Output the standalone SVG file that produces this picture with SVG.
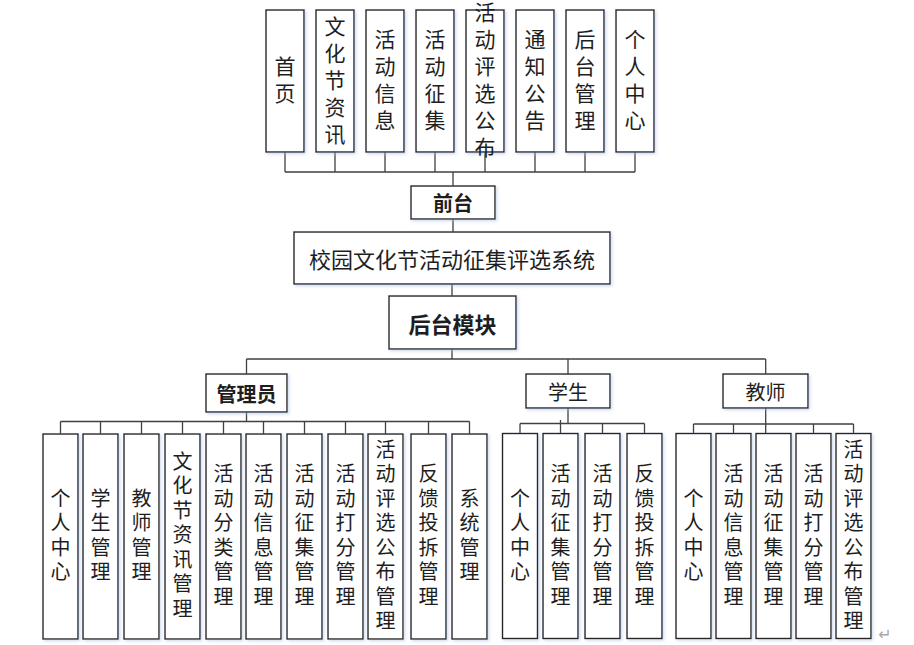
<svg xmlns="http://www.w3.org/2000/svg" width="914" height="645" viewBox="0 0 914 645">
<defs>
<filter id="sh" x="-20%" y="-20%" width="140%" height="140%">
<feDropShadow dx="1.5" dy="1.5" stdDeviation="1.5" flood-color="#a9bde3" flood-opacity="0.55"/>
</filter>
</defs>
<style>
.b{fill:#fff;stroke:#262626;stroke-width:1.4;filter:url(#sh)}
.c{fill:none;stroke:#404040;stroke-width:1.3}
text{font-family:"Noto Sans CJK SC","Noto Sans",sans-serif;fill:#1e1e1e;text-anchor:middle;dominant-baseline:central}
.t{font-size:21px;writing-mode:vertical-rl;letter-spacing:6px}
.v{font-size:20px;writing-mode:vertical-rl;letter-spacing:4.5px}
.h{font-size:20px}
.m{font-size:22px}
.bd{font-weight:bold}
</style>
<rect width="914" height="645" fill="#fff"/>
<g id="connectors">
<path class="c" d="M285,152V172M335,152V172M385,152V172M435,152V172M485,152V172M535,152V172M585,152V172M635,152V172M285,172H635M453,172V186M453,219V232M452,284V296M452,349V359M246.5,359H765.7M246.5,359V374M568,359V374M765.7,359V374"/>
<path class="c" d="M246.5,412V421.5M60.5,421.5H469.5M60.5,421.5V434M100.5,421.5V434M141.5,421.5V434M182.5,421.5V434M223.5,421.5V434M263.5,421.5V434M304.5,421.5V434M345.5,421.5V434M385.5,421.5V434M428.5,421.5V434M469.5,421.5V434"/>
<path class="c" d="M568,408V423.5M520,423.5H644.5M520,423.5V433.5M560.5,420V433.5M602.5,423.5V433.5M644.5,423.5V433.5"/>
<path class="c" d="M765.7,408V433.5M693.5,424H853.5M693.5,424V433.5M733.5,424V433.5M813.5,424V433.5M853.5,424V433.5"/>
</g>
<g id="top-nodes">
<g id="n-shouye"><rect class="b" x="266" y="10" width="38" height="142"/><text class="t" x="285" y="83">首页</text></g>
<g id="n-wenhua"><rect class="b" x="316" y="10" width="38" height="142"/><text class="t" x="335" y="83">文化节资讯</text></g>
<g id="n-xinxi"><rect class="b" x="366" y="10" width="38" height="142"/><text class="t" x="385" y="83">活动信息</text></g>
<g id="n-zhengji"><rect class="b" x="416" y="10" width="38" height="142"/><text class="t" x="435" y="83">活动征集</text></g>
<g id="n-pingxuan"><rect class="b" x="466" y="10" width="38" height="142"/><text class="t" x="485" y="83">活动评选公布</text></g>
<g id="n-tongzhi"><rect class="b" x="516" y="10" width="38" height="142"/><text class="t" x="535" y="83">通知公告</text></g>
<g id="n-houtai"><rect class="b" x="566" y="10" width="38" height="142"/><text class="t" x="585" y="83">后台管理</text></g>
<g id="n-geren"><rect class="b" x="616" y="10" width="38" height="142"/><text class="t" x="635" y="83">个人中心</text></g>
</g>
<g id="n-qiantai"><rect class="b" x="411" y="186" width="84" height="33"/><text class="h bd" x="453" y="202.5">前台</text></g>
<g id="n-system"><rect class="b" x="294" y="232" width="316" height="52"/><text class="m" x="452" y="258">校园文化节活动征集评选系统</text></g>
<g id="n-backend"><rect class="b" x="389" y="296" width="127" height="53"/><text class="m bd" x="452.5" y="322.5">后台模块</text></g>
<g id="n-admin"><rect class="b" x="206" y="374" width="81" height="38"/><text class="h bd" x="246.5" y="393">管理员</text></g>
<g id="n-student"><rect class="b" x="526" y="374" width="84" height="34"/><text class="h" x="568" y="391">学生</text></g>
<g id="n-teacher"><rect class="b" x="723" y="374" width="85" height="34"/><text class="h" x="765.5" y="391">教师</text></g>
<g id="admin-children">
<g id="a1"><rect class="b" x="43" y="434" width="35" height="205"/><text class="v" x="60.5" y="537">个人中心</text></g>
<g id="a2"><rect class="b" x="83" y="434" width="35" height="205"/><text class="v" x="100.5" y="537">学生管理</text></g>
<g id="a3"><rect class="b" x="124" y="434" width="35" height="205"/><text class="v" x="141.5" y="537">教师管理</text></g>
<g id="a4"><rect class="b" x="165" y="434" width="35" height="205"/><text class="v" x="182.5" y="537">文化节资讯管理</text></g>
<g id="a5"><rect class="b" x="206" y="434" width="35" height="205"/><text class="v" x="223.5" y="537">活动分类管理</text></g>
<g id="a6"><rect class="b" x="246" y="434" width="35" height="205"/><text class="v" x="263.5" y="537">活动信息管理</text></g>
<g id="a7"><rect class="b" x="287" y="434" width="35" height="205"/><text class="v" x="304.5" y="537">活动征集管理</text></g>
<g id="a8"><rect class="b" x="328" y="434" width="35" height="205"/><text class="v" x="345.5" y="537">活动打分管理</text></g>
<g id="a9"><rect class="b" x="368" y="434" width="35" height="205"/><text class="v" x="385.5" y="537">活动评选公布管理</text></g>
<g id="a10"><rect class="b" x="411" y="434" width="35" height="205"/><text class="v" x="428.5" y="537">反馈投拆管理</text></g>
<g id="a11"><rect class="b" x="452" y="434" width="35" height="205"/><text class="v" x="469.5" y="537">系统管理</text></g>
</g>
<g id="student-children">
<g id="s1"><rect class="b" x="502.5" y="433.5" width="35" height="205"/><text class="v" x="520" y="537">个人中心</text></g>
<g id="s2"><rect class="b" x="543" y="433.5" width="35" height="205"/><text class="v" x="560.5" y="537">活动征集管理</text></g>
<g id="s3"><rect class="b" x="585" y="433.5" width="35" height="205"/><text class="v" x="602.5" y="537">活动打分管理</text></g>
<g id="s4"><rect class="b" x="627" y="433.5" width="35" height="205"/><text class="v" x="644.5" y="537">反馈投拆管理</text></g>
</g>
<g id="teacher-children">
<g id="t1"><rect class="b" x="676" y="433.5" width="35" height="205"/><text class="v" x="693.5" y="537">个人中心</text></g>
<g id="t2"><rect class="b" x="716" y="433.5" width="35" height="205"/><text class="v" x="733.5" y="537">活动信息管理</text></g>
<g id="t3"><rect class="b" x="756" y="433.5" width="35" height="205"/><text class="v" x="773.5" y="537">活动征集管理</text></g>
<g id="t4"><rect class="b" x="796" y="433.5" width="35" height="205"/><text class="v" x="813.5" y="537">活动打分管理</text></g>
<g id="t5"><rect class="b" x="836" y="433.5" width="35" height="205"/><text class="v" x="853.5" y="537">活动评选公布管理</text></g>
</g>
<text x="885" y="634" style="font-size:16px;fill:#a8a8a8;font-family:'DejaVu Sans',sans-serif">↵</text>
</svg>
